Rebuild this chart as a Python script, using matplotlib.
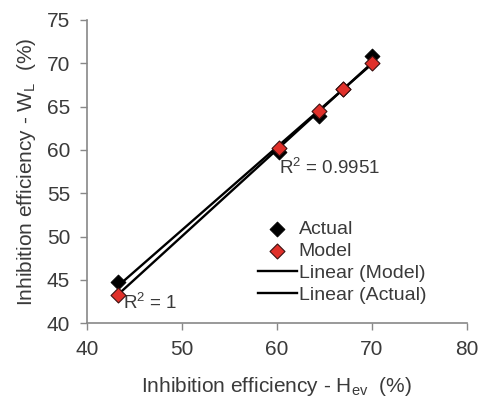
import numpy as np
import matplotlib
matplotlib.use('Agg')
import matplotlib.pyplot as plt

plt.rcParams['font.family'] = ['Liberation Sans', 'DejaVu Sans']
plt.rcParams['mathtext.fontset'] = 'custom'
plt.rcParams['mathtext.rm'] = 'Liberation Sans'
plt.rcParams['mathtext.it'] = 'Liberation Sans:italic'

# Eficiência de inibição: H_ev (eixo x) contra W_L (real e modelo)
hev = [43.3, 60.2, 64.5, 67.0, 70.0]
actual = [44.7, 59.8, 63.9, 67.0, 70.9]
model = [43.3, 60.2, 64.5, 67.0, 70.0]
r2_actual = '0.9951'
r2_model = '1'

text_color = '#3a3a3a'
axis_color = '#888888'

fig = plt.figure(figsize=(4.79, 4.08), dpi=100)
ax = fig.add_axes([0.181, 0.208, 0.793, 0.743])

# Linhas de tendência lineares
xs = np.array([min(hev), max(hev)])
pm = np.polyfit(hev, model, 1)
pa = np.polyfit(hev, actual, 1)
l_model, = ax.plot(xs, np.polyval(pm, xs), color='black', lw=1.7, zorder=2)
l_actual, = ax.plot(xs, np.polyval(pa, xs), color='black', lw=1.7, zorder=2)

s_act = ax.scatter(hev, actual, marker='D', s=58, color='black', edgecolor='black', lw=0.6, zorder=3)
s_mod = ax.scatter(hev, model, marker='D', s=58, color='#e0302a', edgecolor='#3a1010', lw=0.8, zorder=4)

ax.text(60.2, 57.2, r'R$^{2}$ = ' + r2_actual, fontsize=13.5, color=text_color)
ax.text(43.8, 41.6, r'R$^{2}$ = ' + r2_model, fontsize=13.5, color=text_color)

ax.set_xlim(40, 80)
ax.set_ylim(40, 75)
ax.set_xticks([40, 50, 60, 70, 80])
ax.set_yticks(range(40, 76, 5))
ax.tick_params(labelsize=15, colors=text_color, direction='out', length=5, width=1, color=axis_color, pad=7)

for side in ['top', 'right']:
    ax.spines[side].set_visible(False)
for side in ['left', 'bottom']:
    ax.spines[side].set_color(axis_color)
    ax.spines[side].set_linewidth(1.2)

ax.set_xlabel(r'Inhibition efficiency - H$_\mathrm{ev}$  (%)', fontsize=15, color=text_color, labelpad=12)
ax.set_ylabel(r'Inhibition efficiency - W$_\mathrm{L}$  (%)', fontsize=15, color=text_color, labelpad=6)

ax.legend([s_act, s_mod, l_model, l_actual],
          ['Actual', 'Model', 'Linear (Model)', 'Linear (Actual)'],
          loc='upper left', bbox_to_anchor=(0.425, 0.37), frameon=False,
          fontsize=14, labelcolor=text_color, handlelength=2.0, handletextpad=0.1,
          labelspacing=0.22, borderpad=0, markerscale=1.0)

fig.savefig('out.png', dpi=100)
